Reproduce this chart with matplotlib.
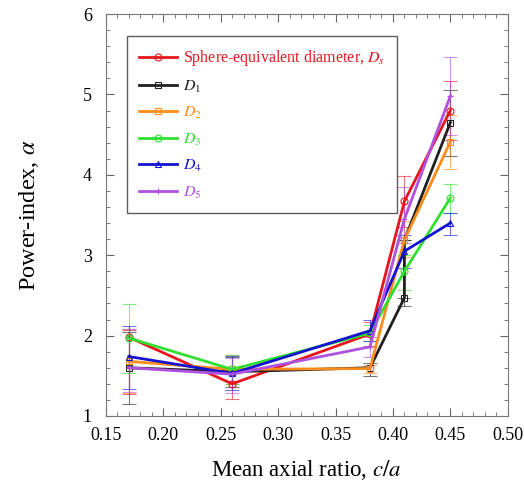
import numpy as np
import matplotlib.pyplot as plt
from matplotlib.ticker import MultipleLocator

plt.rcParams['font.family'] = ['Liberation Serif', 'DejaVu Serif']
plt.rcParams['mathtext.fontset'] = 'stix'

# axial ratio positions
X = [0.17, 0.26, 0.38, 0.41, 0.45]
X_D1 = [0.17, 0.26, 0.38, 0.41, 0.41, 0.45]

# power-index values and error bar ends (low, high)
ds_y = [1.98, 1.40, 2.02, 3.67, 4.80]
ds_lo = [1.27, 1.21, 1.87, 3.35, 4.43]
ds_hi = [2.07, 1.59, 2.17, 3.99, 5.17]

d1_y = [1.60, 1.55, 1.60, 2.47, 3.19, 4.65]
d1_lo = [1.15, 1.36, 1.50, 2.37, 3.19, 4.23]
d1_hi = [2.05, 1.73, 1.66, 2.47, 3.19, 5.05]

d2_y = [1.68, 1.58, 1.59, 3.19, 4.41]
d2_lo = [1.29, 1.40, 1.54, 2.98, 4.07]
d2_hi = [2.08, 1.76, 1.64, 3.42, 4.75]

d3_y = [1.97, 1.58, 2.03, 2.80, 3.71]
d3_lo = [1.54, 1.40, 1.93, 2.57, 3.53]
d3_hi = [2.39, 1.76, 2.13, 3.00, 3.88]

d4_y = [1.74, 1.53, 2.06, 3.05, 3.40]
d4_lo = [1.34, 1.32, 1.93, 2.84, 3.25]
d4_hi = [2.12, 1.75, 2.19, 3.25, 3.53]

d5_y = [1.60, 1.52, 1.86, 3.45, 4.98]
d5_lo = [1.30, 1.29, 1.74, 3.15, 4.50]
d5_hi = [2.08, 1.72, 1.98, 3.85, 5.47]

series = [
    ('Sphere-equivalent diameter, $D_s$', X, ds_y, ds_lo, ds_hi, '#e8141c', 'o'),
    ('$D_1$', X_D1, d1_y, d1_lo, d1_hi, '#202020', 's'),
    ('$D_2$', X, d2_y, d2_lo, d2_hi, '#ff8c1a', 's'),
    ('$D_3$', X, d3_y, d3_lo, d3_hi, '#30e030', 'o'),
    ('$D_4$', X, d4_y, d4_lo, d4_hi, '#1414d0', '^'),
    ('$D_5$', X, d5_y, d5_lo, d5_hi, '#b050e0', '+'),
]

fig = plt.figure(figsize=(5.24, 4.84), dpi=100)
ax = fig.add_axes([0.202, 0.1405, 0.767, 0.8305])

for label, xs, ys, lo, hi, col, mk in series:
    ys = np.array(ys)
    yerr = [ys - np.array(lo), np.array(hi) - ys]
    ax.errorbar(xs, ys, yerr=yerr, fmt='none', ecolor=col, elinewidth=0.8,
                capsize=5, capthick=0.8, alpha=0.6, zorder=2)
    ax.plot(xs, ys, color=col, lw=2.0, marker=mk, ms=5, mfc='none',
            mec=col, mew=0.8, label=label, zorder=3)

ax.set_xlim(0.15, 0.50)
ax.set_ylim(1, 6)
ax.xaxis.set_major_locator(MultipleLocator(0.05))
ax.xaxis.set_minor_locator(MultipleLocator(0.01))
ax.yaxis.set_major_locator(MultipleLocator(1))
ax.yaxis.set_minor_locator(MultipleLocator(0.2))
ax.xaxis.set_major_formatter(plt.FuncFormatter(lambda v, p: f'{v:.2f}'))
ax.tick_params(which='both', direction='in', top=True, right=True,
               color='#666666', labelsize=13)
ax.tick_params(which='major', length=6)
ax.tick_params(which='minor', length=3)
ax.tick_params(axis='x', pad=8)
ax.tick_params(axis='y', pad=10)
for sp in ax.spines.values():
    sp.set_color('#777777')

ax.set_xlabel('Mean axial ratio, $\\it{c/a}$', fontsize=16.5, labelpad=10)
ax.set_ylabel('Power-index, $\\alpha$', fontsize=17.5, labelpad=30)

leg = ax.legend(loc='upper left', bbox_to_anchor=(0.052, 0.945), fontsize=11.5,
                frameon=True, fancybox=False, edgecolor='#333333',
                handlelength=2.4, handletextpad=0.4, labelspacing=0.65,
                borderpad=0.75, borderaxespad=0)
leg.get_frame().set_linewidth(1.0)
for txt, s in zip(leg.get_texts(), series):
    txt.set_color(s[5])

fig.savefig('out.png', dpi=100)
